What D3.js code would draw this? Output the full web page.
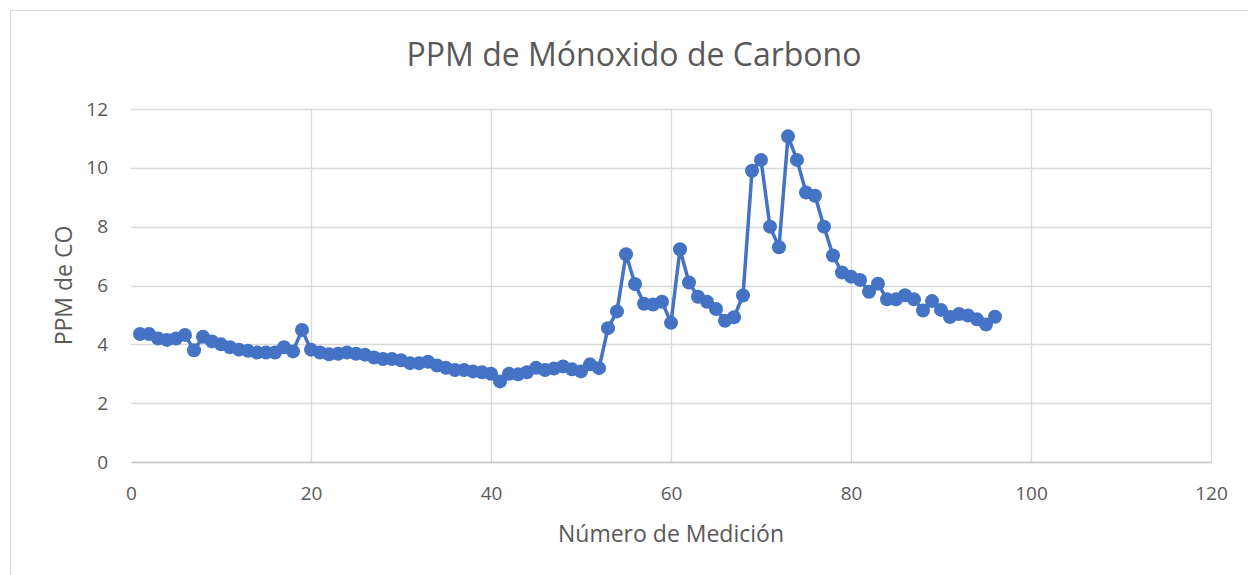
<!DOCTYPE html>
<html>
<head>
<meta charset="utf-8">
<script src="https://cdn.jsdelivr.net/npm/d3@7"></script>
<style>
  body { margin: 0; background: #fff; }
  text { font-family: "Open Sans", "Liberation Sans", sans-serif; fill: #595959; }
</style>
</head>
<body>
<div class="chart"></div>
<script>
// data
const medicion = d3.range(1, 97);
const ppm = [
  4.35, 4.35, 4.2, 4.15, 4.2, 4.32, 3.8, 4.26, 4.1, 4.0,
  3.9, 3.82, 3.78, 3.72, 3.72, 3.72, 3.9, 3.76, 4.49, 3.82,
  3.72, 3.66, 3.68, 3.72, 3.68, 3.65, 3.55, 3.5, 3.5, 3.46,
  3.36, 3.36, 3.41, 3.28, 3.2, 3.13, 3.13, 3.08, 3.05, 3.0,
  2.74, 3.0, 2.98, 3.05, 3.2, 3.13, 3.18, 3.25, 3.15, 3.08,
  3.32, 3.19, 4.55, 5.12, 7.06, 6.05, 5.38, 5.35, 5.45, 4.73,
  7.23, 6.1, 5.62, 5.45, 5.2, 4.8, 4.92, 5.66, 9.9, 10.27,
  8.0, 7.3, 11.07, 10.27, 9.16, 9.05, 8.0, 7.02, 6.44, 6.3,
  6.19, 5.79, 6.06, 5.53, 5.53, 5.67, 5.53, 5.15, 5.47, 5.17,
  4.93, 5.03, 4.98, 4.85, 4.67, 4.94
];
const xTicks = [0, 20, 40, 60, 80, 100, 120];
const yTicks = [0, 2, 4, 6, 8, 10, 12];

const width = 1248, height = 575;
const margin = {top: 109, right: 37, bottom: 113, left: 131};
const graphWidth = width - margin.left - margin.right;
const graphHeight = height - margin.top - margin.bottom;

const svg = d3.select('.chart').append('svg')
    .attr('width', width)
    .attr('height', height);

// outer chart frame
svg.append('rect')
    .attr('x', 10.5).attr('y', 10.5)
    .attr('width', width + 20).attr('height', height + 20)
    .attr('fill', 'none').attr('stroke', '#d9d9d9');

const graph = svg.append('g')
    .attr('transform', `translate(${margin.left}, ${margin.top})`);

const x = d3.scaleLinear().domain([0, 120]).range([0, graphWidth]);
const y = d3.scaleLinear().domain([0, 12]).range([graphHeight, 0]);

// gridlines
graph.append('g')
    .selectAll('line.h')
    .data(yTicks.filter(d => d > 0))
    .enter().append('line')
    .attr('x1', 0).attr('x2', graphWidth)
    .attr('y1', d => Math.round(y(d)) + 0.5).attr('y2', d => Math.round(y(d)) + 0.5)
    .attr('stroke', '#d9d9d9').attr('stroke-width', 1.3);

graph.append('g')
    .selectAll('line.v')
    .data(xTicks.filter(d => d > 0))
    .enter().append('line')
    .attr('x1', d => Math.round(x(d)) + 0.5).attr('x2', d => Math.round(x(d)) + 0.5)
    .attr('y1', 0).attr('y2', graphHeight)
    .attr('stroke', '#d9d9d9').attr('stroke-width', 1.3);

// axes
const xAxis = d3.axisBottom(x).tickValues(xTicks).tickSize(0).tickPadding(25);
const yAxis = d3.axisLeft(y).tickValues(yTicks).tickSize(0).tickPadding(23);

const gx = graph.append('g')
    .attr('transform', `translate(0, ${graphHeight})`)
    .call(xAxis);
gx.select('.domain').attr('stroke', '#bfbfbf').attr('stroke-width', 1.5);
gx.selectAll('text').style('font-size', '19px').attr('fill', '#595959');

const gy = graph.append('g').call(yAxis);
gy.select('.domain').remove();
gy.selectAll('text').style('font-size', '19px').attr('fill', '#595959');

// line + markers
const line = d3.line()
    .x((d, i) => x(medicion[i]))
    .y(d => y(d));

graph.append('path')
    .datum(ppm)
    .attr('d', line)
    .attr('fill', 'none')
    .attr('stroke', '#4472c4')
    .attr('stroke-width', 3.5)
    .attr('stroke-linejoin', 'round');

graph.selectAll('circle')
    .data(ppm)
    .enter().append('circle')
    .attr('cx', (d, i) => x(medicion[i]))
    .attr('cy', d => y(d))
    .attr('r', 7)
    .attr('fill', '#4472c4');

// titles
svg.append('text')
    .attr('x', 634).attr('y', 66)
    .attr('text-anchor', 'middle')
    .style('font-size', '32px')
    .text('PPM de Mónoxido de Carbono');

svg.append('text')
    .attr('x', margin.left + graphWidth / 2).attr('y', 542)
    .attr('text-anchor', 'middle')
    .style('font-size', '23px')
    .text('Número de Medición');

svg.append('text')
    .attr('transform', `translate(72, ${margin.top + graphHeight / 2}) rotate(-90)`)
    .attr('text-anchor', 'middle')
    .style('font-size', '23px')
    .text('PPM de CO');
</script>
</body>
</html>
